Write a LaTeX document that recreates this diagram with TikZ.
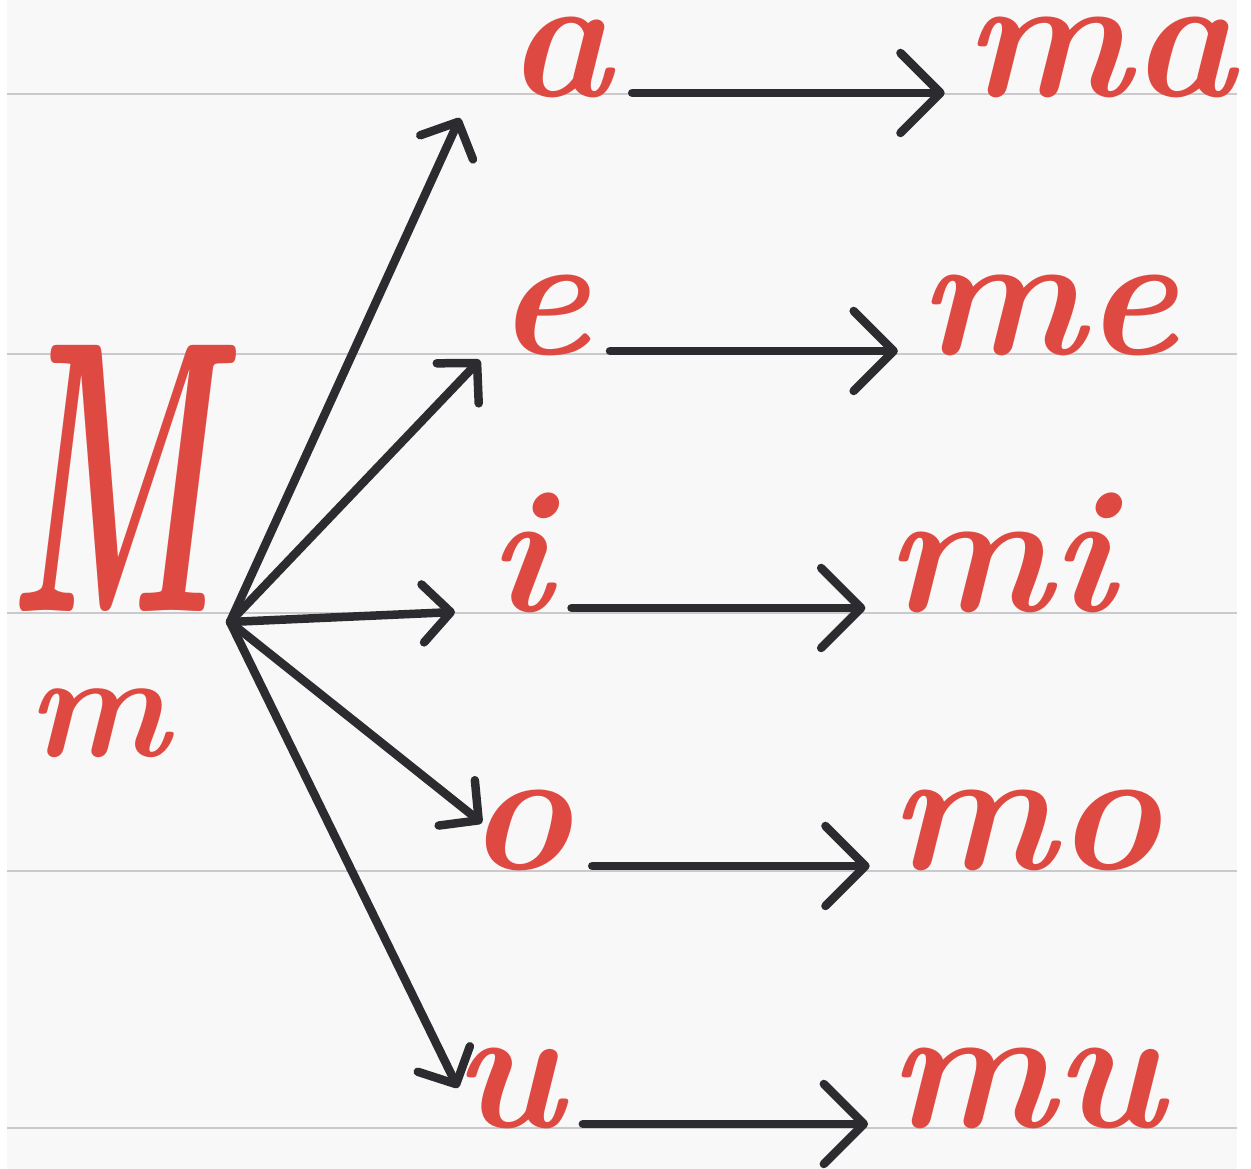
\documentclass[tikz,border=0pt]{standalone}
\usepackage{fontspec}
\usetikzlibrary{arrows.meta,calc}
\newcommand{\handfont}{\bfseries\itshape}
\definecolor{inkRed}{HTML}{DE4A42}
\definecolor{inkDark}{HTML}{2C2C30}
\definecolor{ruleGray}{HTML}{CACACD}
\definecolor{paperBg}{HTML}{F8F8F8}

\tikzset{
  letter/.style={text=inkRed,font=\handfont\fontsize{176}{176}\selectfont,
    inner xsep=20pt,inner ysep=0pt,anchor=base},
  spoke/.style={draw=inkDark,line width=8.5pt,line cap=round,
    -{Straight Barb[length=28pt,width=58pt,round]}},
  link/.style={draw=inkDark,line width=8.5pt,line cap=round,
    -{Straight Barb[length=40pt,width=80pt,round]}},
  ruling/.style={draw=ruleGray,line width=1.3pt}
}

\begin{document}
\begin{tikzpicture}[x=1pt,y=1pt]
  \useasboundingbox (0,0) rectangle (1251,1169);
  \fill[paperBg] (7,0) rectangle (1237,1169);
  % ruled lines of the page
  \foreach \ry in {1075,815,556,298,41}
    \draw[ruling] (7,\ry) -- (1237,\ry);
  % the consonant, capital and small
  \node[letter,font=\handfont\fontsize{388}{388}\selectfont,xscale=0.5] (bigM) at (112,557) {M};
  \node[letter,font=\handfont\fontsize{150}{150}\selectfont] (smallM) at (98,412) {m};
  \coordinate (hub) at (230,547);
  % vowel -> syllable rows
  \foreach \v/\vx/\by/\sx/\tx/\ty in {a/560/1072/1100/460/1051, e/543/814/1048/480/809,
      i/520/557/1000/455/557, o/520/299/1025/482/346, u/508/41/1026/458/81}{
    \coordinate (tip-\v) at (\tx,\ty);
    \draw[spoke] (hub) -- (tip-\v);
    \node[letter] (vow-\v) at (\vx,\by) {\v};
    \node[letter] (syl-\v) at (\sx,\by) {m\v};
    \draw[link] ([yshift=4pt]vow-\v.base east) -- ([yshift=4pt]syl-\v.base west);
  }
\end{tikzpicture}
\end{document}
